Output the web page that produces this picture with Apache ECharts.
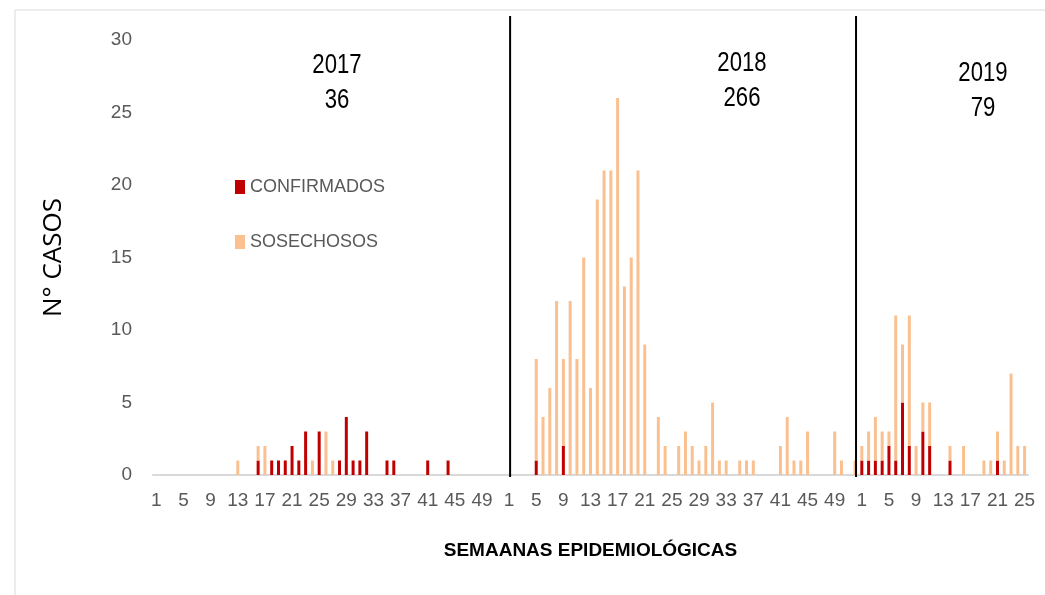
<!DOCTYPE html>
<html>
<head>
<meta charset="utf-8">
<script src="https://cdn.jsdelivr.net/npm/echarts@6/dist/echarts.min.js"></script>
<style>
  html, body { margin: 0; padding: 0; background: #fff; }
  #chart { width: 1045px; height: 595px; }
</style>
</head>
<body>
<div id="chart"></div>
<script>
// weeks per year and year totals
const years = ['2017', '2018', '2019']
const yearTotals = [36, 266, 79]

// casos confirmados por semana
const confirmados2017 = [
  0, 0, 0, 0, 0, 0, 0, 0, 0, 0,
  0, 0, 0, 0, 0, 1, 0, 1, 1, 1,
  2, 1, 3, 0, 3, 0, 0, 1, 4, 1,
  1, 3, 0, 0, 1, 1, 0, 0, 0, 0,
  1, 0, 0, 1, 0, 0, 0, 0, 0, 0,
  0, 0
]
const confirmados2018 = [
  0, 0, 0, 0, 1, 0, 0, 0, 2, 0,
  0, 0, 0, 0, 0, 0, 0, 0, 0, 0,
  0, 0, 0, 0, 0, 0, 0, 0, 0, 0,
  0, 0, 0, 0, 0, 0, 0, 0, 0, 0,
  0, 0, 0, 0, 0, 0, 0, 0, 0, 0,
  0, 0
]
const confirmados2019 = [
  1, 1, 1, 1, 2, 1, 5, 2, 0, 3,
  2, 0, 0, 1, 0, 0, 0, 0, 0, 0,
  1, 0, 0, 0, 0
]

// casos sospechosos por semana
const sospechosos2017 = [
  0, 0, 0, 0, 0, 0, 0, 0, 0, 0,
  0, 0, 1, 0, 0, 1, 2, 0, 0, 0,
  0, 0, 0, 1, 0, 3, 1, 0, 0, 0,
  0, 0, 0, 0, 0, 0, 0, 0, 0, 0,
  0, 0, 0, 0, 0, 0, 0, 0, 0, 0,
  0, 0
]
const sospechosos2018 = [
  0, 0, 0, 0, 7, 4, 6, 12, 6, 12,
  8, 15, 6, 19, 21, 21, 26, 13, 15, 21,
  9, 0, 4, 2, 0, 2, 3, 2, 1, 2,
  5, 1, 1, 0, 1, 1, 1, 0, 0, 0,
  2, 4, 1, 1, 3, 0, 0, 0, 3, 1,
  0, 1
]
const sospechosos2019 = [
  1, 2, 3, 2, 1, 10, 4, 9, 2, 2,
  3, 0, 0, 1, 0, 2, 0, 0, 1, 1,
  2, 1, 7, 2, 2
]

const yMax = 30
const yStep = 5

const confirmados = confirmados2017.concat(confirmados2018, confirmados2019)
const sospechosos = sospechosos2017.concat(sospechosos2018, sospechosos2019)
const weeksPerYear = [confirmados2017.length, confirmados2018.length, confirmados2019.length]

let categories = []
years.forEach((y, i) => {
  for (let w = 1; w <= weeksPerYear[i]; w++) categories.push(y + '-' + w)
})

const narrow = "'Liberation Sans Narrow', 'Liberation Sans', sans-serif"

let chart = echarts.init(document.getElementById('chart'))
let option = {
  animation: false,
  textStyle: { fontFamily: narrow },
  grid: { left: 153, right: 17, top: 40, bottom: 120 },
  legend: {
    orient: 'vertical',
    left: 230,
    top: 173,
    itemWidth: 10,
    itemHeight: 14,
    itemGap: 37,
    icon: 'rect',
    selectedMode: false,
    textStyle: { fontSize: 18, color: '#595959', fontFamily: narrow, padding: [0, 0, 0, 0] },
    data: ['CONFIRMADOS', 'SOSECHOSOS']
  },
  xAxis: {
    type: 'category',
    data: categories,
    name: 'SEMAANAS EPIDEMIOLÓGICAS',
    nameLocation: 'middle',
    nameGap: 66,
    nameTextStyle: { fontSize: 19, fontWeight: 'bold', color: '#000', fontFamily: narrow },
    axisTick: { show: false },
    axisLine: { lineStyle: { color: '#d9d9d9', width: 2 } },
    axisLabel: {
      interval: 3,
      margin: 16,
      fontSize: 19,
      color: '#595959',
      fontFamily: narrow,
      formatter: v => v.split('-')[1]
    }
  },
  yAxis: {
    type: 'value',
    min: 0,
    max: yMax,
    interval: yStep,
    name: 'N° CASOS',
    nameLocation: 'middle',
    nameRotate: 90,
    nameGap: 86,
    nameTextStyle: { fontSize: 26, color: '#000', fontFamily: "'Open Sans', sans-serif" },
    axisLine: { show: false },
    axisTick: { show: false },
    splitLine: { show: false },
    axisLabel: { margin: 21, fontSize: 19, color: '#595959', fontFamily: narrow }
  },
  series: [
    {
      name: 'CONFIRMADOS',
      type: 'bar',
      stack: 'casos',
      barWidth: 3,
      itemStyle: { color: '#C00000' },
      data: confirmados
    },
    {
      name: 'SOSECHOSOS',
      type: 'bar',
      stack: 'casos',
      barWidth: 3,
      itemStyle: { color: '#FAC090' },
      data: sospechosos
    }
  ]
}
chart.setOption(option)

// year separators (drawn lines) and year labels
let sepIdx = [weeksPerYear[0], weeksPerYear[0] + weeksPerYear[1] - 1]
let labelPos = [[337, 83], [742, 81], [983, 91]]
let graphics = [
  {
    type: 'rect',
    shape: { x: 15, y: 10, width: 1100, height: 700 },
    style: { fill: 'none', stroke: '#d9d9d9', lineWidth: 1 },
    silent: true
  }
]
sepIdx.forEach(idx => {
  let x = chart.convertToPixel({ xAxisIndex: 0 }, idx) + 1
  graphics.push({
    type: 'line',
    shape: { x1: x, y1: 16, x2: x, y2: 477 },
    style: { stroke: '#000', lineWidth: 2 },
    z: 10
  })
})
years.forEach((y, i) => {
  graphics.push({
    type: 'text',
    x: labelPos[i][0],
    y: labelPos[i][1],
    scaleX: 0.82,
    style: {
      text: y + '\n' + yearTotals[i],
      align: 'center',
      verticalAlign: 'middle',
      lineHeight: 35,
      fontSize: 27,
      fontFamily: narrow,
      fill: '#000'
    }
  })
})
chart.setOption({ graphic: graphics })
</script>
</body>
</html>
